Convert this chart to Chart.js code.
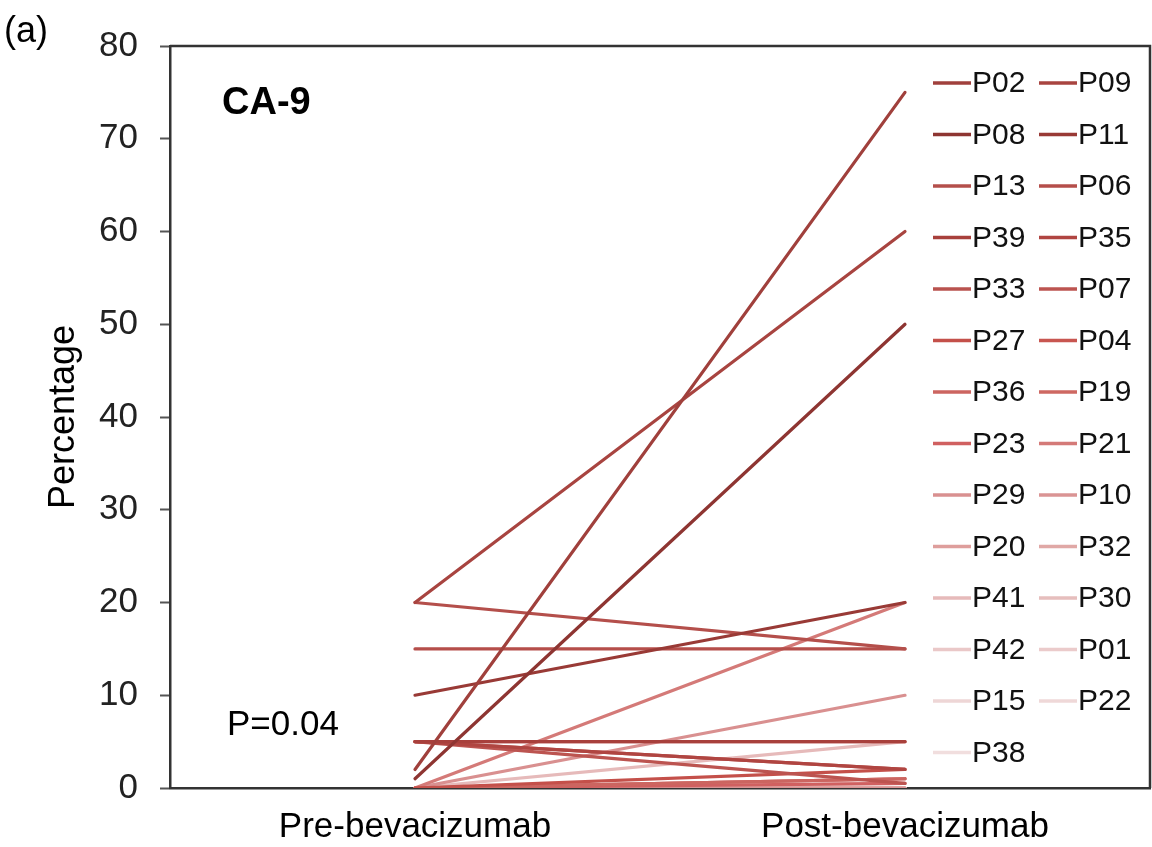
<!DOCTYPE html>
<html>
<head>
<meta charset="utf-8">
<script src="https://cdn.jsdelivr.net/npm/chart.js@4/dist/chart.umd.min.js"></script>
<style>
  html, body { margin: 0; padding: 0; background: #fff; }
  #wrap { width: 1152px; height: 847px; position: relative; }
</style>
</head>
<body>
<div id="wrap"><canvas id="chart_ca9"></canvas></div>
<script>
const timepoints = ['Pre-bevacizumab', 'Post-bevacizumab'];
const patients = ['P02', 'P09', 'P08', 'P11', 'P13', 'P06', 'P39', 'P35', 'P33', 'P07', 'P27', 'P04', 'P36', 'P19',
    'P23', 'P21', 'P29', 'P10', 'P20', 'P32', 'P41', 'P30', 'P42', 'P01', 'P15', 'P22', 'P38'];
const preValues = [2, 20, 1, 10, 20, 15, 5, 5, 5, 5, 0, 5, 0, 0, 0, 0, 0, 0, 0, 0, 0, 0, 0, 0, 0, 0, 0];
const postValues = [75, 60, 50, 20, 15, 15, 5, 2, 2, 0.5, 2, 5, 1, 1, 0.5, 20, 10, 0, 0, 1, 5, 0.5, 0, 0, 1, 0, 0];
const yTicks = [0, 10, 20, 30, 40, 50, 60, 70, 80];
const lineColors = ['#a0403c', '#a84440', '#8e3532', '#993a36', '#b44f4b', '#b54e4a', '#a8403c', '#b04541',
    '#b9524e', '#bc5450', '#c4504a', '#c85650', '#cc6560', '#ce6862', '#d06060', '#d47a78', '#d99090',
    '#da9494', '#de9e9c', '#e0a8a6', '#e6baba', '#e6bebd', '#eac8c8', '#ebcbcb', '#eed6d6', '#efd8d8', '#f1dede'];

const FONT = '"Liberation Sans", Arial, sans-serif';

const datasets = patients.map((name, i) => ({
    label: name,
    data: [preValues[i], postValues[i]],
    borderColor: lineColors[i],
    backgroundColor: lineColors[i],
    borderWidth: 3.2,
    borderCapStyle: 'round',
    pointRadius: 0,
    tension: 0,
}));

// frame, panel texts and the two-column legend inside the plot box
const extras = {
    id: 'extras',
    afterDraw(chart) {
        const { ctx, chartArea: a } = chart;
        ctx.save();
        ctx.strokeStyle = '#333';
        ctx.lineWidth = 2.5;
        ctx.beginPath();
        ctx.moveTo(a.left, a.top);
        ctx.lineTo(a.right, a.top);
        ctx.lineTo(a.right, a.bottom);
        ctx.stroke();

        ctx.fillStyle = '#000';
        ctx.textBaseline = 'middle';
        ctx.textAlign = 'left';
        ctx.font = '36px ' + FONT;
        ctx.fillText('(a)', 4, 32);
        ctx.font = 'bold 38px ' + FONT;
        ctx.fillText('CA-9', a.left + 52, 104);
        ctx.font = '35px ' + FONT;
        ctx.fillText('P=0.04', a.left + 57, 725);

        const rowStep = 51.5;
        const firstRow = 83;
        ctx.font = '30px ' + FONT;
        chart.data.datasets.forEach((ds, i) => {
            const col = i % 2;
            const row = Math.floor(i / 2);
            const x0 = col === 0 ? 933 : 1039;
            const y = firstRow + row * rowStep;
            ctx.strokeStyle = ds.borderColor;
            ctx.lineWidth = 3.5;
            ctx.beginPath();
            ctx.moveTo(x0, y);
            ctx.lineTo(x0 + 38, y);
            ctx.stroke();
            ctx.fillStyle = '#111';
            ctx.fillText(ds.label, x0 + 39, y + 1);
        });
        ctx.restore();
    },
};

new Chart(document.getElementById('chart_ca9'), {
    type: 'line',
    data: {
        labels: timepoints,
        datasets,
    },
    options: {
        responsive: true,
        maintainAspectRatio: false,
        animation: false,
        devicePixelRatio: 1,
        layout: {
            padding: { top: 46, right: 2, left: 0, bottom: 0 },
        },
        scales: {
            x: {
                offset: true,
                grid: { display: false, drawTicks: false },
                border: { display: true, color: '#333', width: 2.5 },
                ticks: {
                    color: '#000',
                    padding: 18,
                    font: { family: FONT, size: 35 },
                },
                afterFit: (scale) => { scale.height = 59; },
            },
            y: {
                min: 0,
                max: 80,
                afterBuildTicks: (scale) => { scale.ticks = yTicks.map((v) => ({ value: v })); },
                grid: {
                    drawOnChartArea: false,
                    drawTicks: true,
                    tickLength: 10,
                    tickWidth: 2,
                    tickColor: '#555',
                },
                border: { display: true, color: '#333', width: 2.5 },
                ticks: {
                    color: '#222',
                    padding: 22,
                    font: { family: FONT, size: 35 },
                },
                title: {
                    display: true,
                    text: 'Percentage',
                    color: '#000',
                    padding: { top: 42, bottom: 0 },
                    font: { family: FONT, size: 36 },
                },
                afterFit: (scale) => { scale.width = 170; },
            },
        },
        plugins: {
            legend: { display: false },
            title: { display: false },
            tooltip: { enabled: false },
        },
    },
    plugins: [extras],
});
</script>
</body>
</html>
